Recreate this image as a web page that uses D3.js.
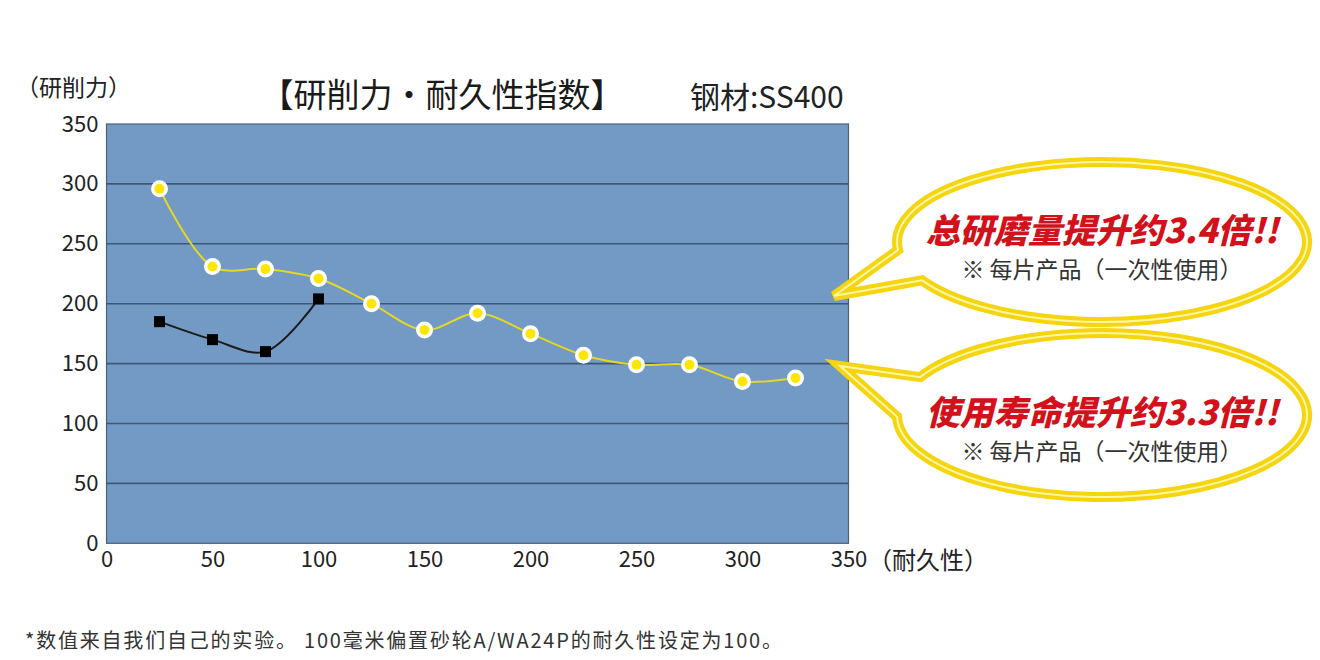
<!DOCTYPE html>
<html>
<head>
<meta charset="utf-8">
<script src="https://cdn.jsdelivr.net/npm/d3@7"></script>
<style>
  body { margin: 0; background: #fff; }
  text { font-family: "Noto Sans CJK SC", "Noto Sans", sans-serif; }
</style>
</head>
<body>
<div id="chart"></div>
<script>
// ============
// Data
// ============
var durability = [25, 50, 75, 100, 125, 150, 175, 200, 225, 250, 275, 300, 325];
var newWheel = [296, 231, 229, 221, 200, 178, 192, 175, 157, 149, 149, 135, 138];
var oldDurability = [25, 50, 75, 100];
var oldWheel = [185, 170, 160, 204];
var xTicks = [0, 50, 100, 150, 200, 250, 300, 350];
var yTicks = [0, 50, 100, 150, 200, 250, 300, 350];

var callouts = [
  { title: "总研磨量提升约3.4倍!!", note: "※ 每片产品（一次性使用）" },
  { title: "使用寿命提升约3.3倍!!", note: "※ 每片产品（一次性使用）" }
];

// ============
// Set up of the svg
// ============
var svgWidth = 1320;
var svgHeight = 660;

var plot = { left: 106.5, right: 848.5, top: 124, bottom: 543.3 };

var svg = d3.select("#chart")
  .append("svg")
  .attr("width", svgWidth)
  .attr("height", svgHeight);

var xScale = d3.scaleLinear()
  .domain([0, 350])
  .range([plot.left, plot.right]);

var yScale = d3.scaleLinear()
  .domain([0, 350])
  .range([plot.bottom, plot.top]);

// background of plot area
svg.append("rect")
  .attr("x", plot.left)
  .attr("y", plot.top)
  .attr("width", plot.right - plot.left)
  .attr("height", plot.bottom - plot.top)
  .attr("fill", "#7399c5")
  .attr("stroke", "#4d6178")
  .attr("stroke-width", 1.2);

// gridlines
svg.append("g")
  .selectAll("line")
  .data(yTicks.slice(1, -1))
  .enter()
  .append("line")
  .attr("x1", plot.left)
  .attr("x2", plot.right)
  .attr("y1", d => yScale(d))
  .attr("y2", d => yScale(d))
  .attr("stroke", "#3f5877")
  .attr("stroke-width", 1.6);

// axes (labels only)
var leftAxis = d3.axisLeft(yScale)
  .tickValues(yTicks)
  .tickSize(0)
  .tickPadding(8);

var yAxis = svg.append("g")
  .attr("transform", `translate(${plot.left}, 0)`)
  .call(leftAxis);

var bottomAxis = d3.axisBottom(xScale)
  .tickValues(xTicks)
  .tickSize(0)
  .tickPadding(8);

var xAxis = svg.append("g")
  .attr("transform", `translate(0, ${plot.bottom})`)
  .call(bottomAxis);

[xAxis, yAxis].forEach(function(ax) {
  ax.select(".domain").remove();
  ax.selectAll("text")
    .attr("font-size", 22)
    .attr("fill", "#222")
    .style("font-family", "'Noto Sans CJK SC', sans-serif");
});

// ============
// Lines and markers
// ============
var line = d3.line()
  .x(d => xScale(d[0]))
  .y(d => yScale(d[1]))
  .curve(d3.curveCatmullRom.alpha(0.5));

var newData = durability.map((d, i) => [d, newWheel[i]]);
var oldData = oldDurability.map((d, i) => [d, oldWheel[i]]);

svg.append("path")
  .datum(oldData)
  .attr("d", line)
  .attr("fill", "none")
  .attr("stroke", "#1b1b1b")
  .attr("stroke-width", 2);

svg.append("g")
  .selectAll("rect")
  .data(oldData)
  .enter()
  .append("rect")
  .attr("x", d => xScale(d[0]) - 5.5)
  .attr("y", d => yScale(d[1]) - 5.5)
  .attr("width", 11)
  .attr("height", 11)
  .attr("fill", "#000");

svg.append("path")
  .datum(newData)
  .attr("d", line)
  .attr("fill", "none")
  .attr("stroke", "#e3d824")
  .attr("stroke-width", 2);

var markers = svg.append("g")
  .selectAll("g")
  .data(newData)
  .enter()
  .append("g")
  .attr("transform", d => `translate(${xScale(d[0])}, ${yScale(d[1])})`);

markers.append("circle")
  .attr("r", 8.5)
  .attr("fill", "#fff");

markers.append("circle")
  .attr("r", 5)
  .attr("fill", "#ffe600");

// ============
// Titles and labels
// ============
svg.append("text")
  .attr("x", 16)
  .attr("y", 96)
  .attr("font-size", 23)
  .attr("fill", "#222")
  .text("（研削力）");

svg.append("text")
  .attr("x", 442)
  .attr("y", 107)
  .attr("text-anchor", "middle")
  .attr("font-size", 33)
  .attr("fill", "#1a1a1a")
  .text("【研削力・耐久性指数】");

svg.append("text")
  .attr("x", 690)
  .attr("y", 108)
  .attr("font-size", 30)
  .attr("fill", "#222")
  .text("钢材:SS400");

svg.append("text")
  .attr("x", 868)
  .attr("y", 569)
  .attr("font-size", 24)
  .attr("fill", "#222")
  .text("（耐久性）");

svg.append("text")
  .attr("x", 25)
  .attr("y", 648)
  .attr("font-size", 20)
  .attr("letter-spacing", 1.8)
  .attr("fill", "#333")
  .text("*数值来自我们自己的实验。 100毫米偏置砂轮A/WA24P的耐久性设定为100。");

// ============
// Speech bubbles
// ============
function bubblePath(cx, cy, rx, ry, t1, t2, tip) {
  // t1 -> t2 long way round, then to the tail tip
  var a = [cx + rx * Math.cos(t1), cy + ry * Math.sin(t1)];
  var b = [cx + rx * Math.cos(t2), cy + ry * Math.sin(t2)];
  return `M${a[0]},${a[1]} A${rx},${ry} 0 1 1 ${b[0]},${b[1]} L${tip[0]},${tip[1]} Z`;
}

var bubbles = [
  { cx: 1102, cy: 242, rx: 205, ry: 80, t1: Math.PI - 0.1, t2: Math.PI - 0.5, tip: [834, 296], ty: 243, ny: 278 },
  { cx: 1102, cy: 415, rx: 205, ry: 82, t1: Math.PI + 0.48, t2: Math.PI - 0.02, tip: [840, 366], ty: 425, ny: 460 }
];

bubbles.forEach(function(b, i) {
  var d = bubblePath(b.cx, b.cy, b.rx, b.ry, b.t1, b.t2, b.tip);
  svg.append("path")
    .attr("d", d)
    .attr("fill", "#fff")
    .attr("stroke", "#f5d410")
    .attr("stroke-width", 10)
    .attr("stroke-linejoin", "miter");
  svg.append("path")
    .attr("d", d)
    .attr("fill", "none")
    .attr("stroke", "#fff6a6")
    .attr("stroke-width", 2);

  svg.append("text")
    .attr("x", b.cx)
    .attr("y", b.ty)
    .attr("text-anchor", "middle")
    .attr("font-size", 34)
    .attr("font-weight", 900)
    .attr("font-style", "italic")
    .attr("fill", "#d3111b")
    .text(callouts[i].title);

  svg.append("text")
    .attr("x", b.cx)
    .attr("y", b.ny)
    .attr("text-anchor", "middle")
    .attr("font-size", 23)
    .attr("fill", "#333")
    .text(callouts[i].note);
});
</script>
</body>
</html>
